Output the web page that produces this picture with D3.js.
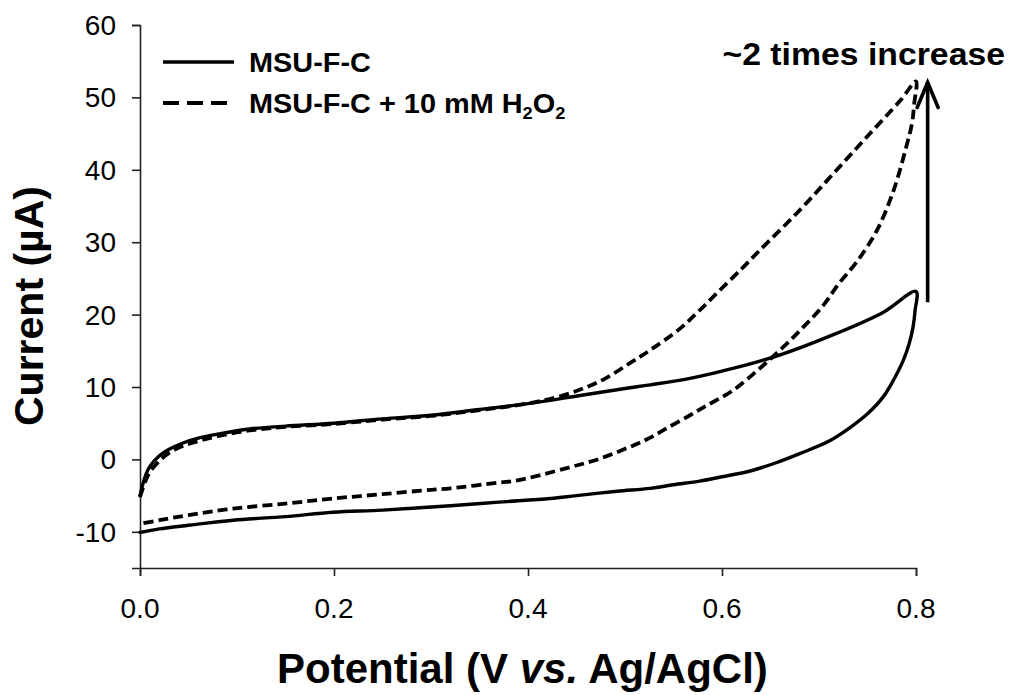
<!DOCTYPE html>
<html>
<head>
<meta charset="utf-8">
<script src="https://cdn.jsdelivr.net/npm/d3@7"></script>
<style>
  html, body { margin: 0; padding: 0; background: #fff; }
  svg { display: block; }
  text { font-family: "Liberation Sans", Arial, Helvetica, sans-serif; fill: #000; }
</style>
</head>
<body>
<svg id="chart" width="1013" height="695"></svg>
<script>
// Cyclic voltammograms, potential in V vs. Ag/AgCl, current in µA.
// Each loop: forward sweep 0 -> 0.8 V, then the return sweep back to 0 V.
const potentialBare = [
  0, 0.005, 0.01, 0.02, 0.03, 0.045, 0.062, 0.08, 0.113, 0.15, 0.2, 0.25, 0.3, 0.35, 0.4,
  0.457, 0.5, 0.526, 0.567, 0.6, 0.657, 0.718, 0.766, 0.8,
  0.799, 0.797, 0.793, 0.787, 0.777, 0.766, 0.75, 0.732, 0.71, 0.68, 0.655, 0.629, 0.6,
  0.577, 0.55, 0.526, 0.492, 0.45, 0.423, 0.37, 0.32, 0.25, 0.199, 0.15, 0.096, 0.05, 0.02, 0
];
const currentBare = [
  -5.0, -2.5, -1.0, 0.5, 1.4, 2.3, 3.0, 3.5, 4.2, 4.6, 5.0, 5.6, 6.1, 6.9, 7.7,
  8.9, 9.8, 10.3, 11.2, 12.2, 14.3, 17.4, 20.3, 23.2,
  20.5, 18.3, 16.0, 13.7, 11.0, 8.6, 6.3, 4.4, 2.5, 0.8, -0.5, -1.6, -2.4,
  -3.0, -3.5, -4.0, -4.4, -5.0, -5.4, -5.9, -6.4, -7.0, -7.3, -7.9, -8.4, -9.1, -9.6, -10.1
];

const potentialPeroxide = [
  0, 0.005, 0.01, 0.02, 0.03, 0.045, 0.062, 0.08, 0.113, 0.15, 0.2, 0.25, 0.3, 0.35, 0.399,
  0.43, 0.457, 0.48, 0.505, 0.526, 0.557, 0.577, 0.595, 0.62, 0.639, 0.68, 0.715, 0.749, 0.784, 0.8,
  0.798, 0.796, 0.79, 0.777, 0.76, 0.739, 0.72, 0.704, 0.684, 0.663, 0.64, 0.611, 0.585, 0.567,
  0.543, 0.526, 0.508, 0.474, 0.44, 0.389, 0.37, 0.32, 0.3, 0.25, 0.199, 0.15, 0.096, 0.05, 0.02, 0
];
const currentPeroxide = [
  -5.2, -3.2, -1.8, -0.2, 0.9, 1.9, 2.6, 3.2, 4.0, 4.5, 4.9, 5.5, 6.0, 6.8, 7.7,
  8.6, 9.8, 11.2, 13.3, 15.1, 18.1, 20.6, 23.0, 26.3, 28.9, 34.4, 39.5, 44.5, 49.6, 52.2,
  49.0, 46.5, 43.2, 37.2, 31.7, 27.3, 24.2, 21.2, 18.3, 15.5, 12.7, 9.5, 7.5, 6.1,
  4.3, 3.0, 1.9, 0.1, -1.2, -2.9, -3.2, -4.0, -4.2, -4.8, -5.4, -6.1, -6.8, -7.7, -8.4, -8.9
];

const xTicks = [0, 0.2, 0.4, 0.6, 0.8];
const yTicks = [-10, 0, 10, 20, 30, 40, 50, 60];
const seriesNames = ["MSU-F-C", "MSU-F-C + 10 mM H2O2"];

// Vertical arrow marking the rise of the anodic current at the switching potential
const arrowPotential = 0.812;
const arrowFrom = 21.7;
const arrowTo = 52.2;
const annotation = "~2 times increase";

const svg = d3.select("#chart");
svg.append("rect").attr("width", 1013).attr("height", 695).attr("fill", "#fff");

const x = d3.scaleLinear().domain([0, 0.8]).range([140, 916]);
const y = d3.scaleLinear().domain([-15, 60]).range([568, 25]);

// text helper: position, optional horizontal stretch and rotation
function label(parent, str, px, py, opts) {
  const o = Object.assign({ size: 28, weight: "normal", anchor: "start", sx: 1.0, rotate: 0 }, opts || {});
  const t = parent.append("text")
    .attr("transform", `translate(${px},${py}) scale(${o.sx},1)` + (o.rotate ? ` rotate(${o.rotate})` : ""))
    .attr("text-anchor", o.anchor)
    .attr("font-size", o.size)
    .attr("font-weight", o.weight);
  if (str !== null) t.text(str);
  return t;
}

// axes
const axisColor = "#222";
const gx = svg.append("g").attr("transform", `translate(0,${y(-15)})`)
  .call(d3.axisBottom(x).tickValues(xTicks).tickSize(8).tickFormat(() => ""));
const gy = svg.append("g").attr("transform", `translate(${x(0)},0)`)
  .call(d3.axisLeft(y).tickValues(yTicks).tickSize(8).tickFormat(() => ""));
[gx, gy].forEach(g => {
  g.select(".domain").attr("stroke", axisColor).attr("stroke-width", 1.6);
  g.selectAll(".tick line").attr("stroke", axisColor).attr("stroke-width", 1.6);
});

xTicks.forEach(v => label(svg, d3.format(".1f")(v), x(v), 618, { anchor: "middle" }));
yTicks.forEach(v => label(svg, String(v), 116, y(v) + 10, { anchor: "end" }));

// axis titles
label(svg, "Current (\u00B5A)", 43, 306, { size: 41, weight: "bold", anchor: "middle", rotate: -90 });
const xt = label(svg, null, 277, 683, { size: 42, weight: "bold" });
xt.append("tspan").text("Potential (V ");
xt.append("tspan").attr("font-style", "italic").text("vs.");
xt.append("tspan").text(" Ag/AgCl)");

// curves
const line = d3.line()
  .x(d => x(d[0])).y(d => y(d[1]))
  .curve(d3.curveCatmullRom.alpha(0.5));

const bare = d3.zip(potentialBare, currentBare);
const peroxide = d3.zip(potentialPeroxide, currentPeroxide);

svg.append("path").datum(peroxide).attr("d", line)
  .attr("fill", "none").attr("stroke", "#000").attr("stroke-width", 3.8)
  .attr("stroke-dasharray", "10,5").attr("stroke-linejoin", "round");
svg.append("path").datum(bare).attr("d", line)
  .attr("fill", "none").attr("stroke", "#000").attr("stroke-width", 3.4)
  .attr("stroke-linejoin", "round").attr("stroke-linecap", "round");

// legend
const legend = svg.append("g");
legend.append("line").attr("x1", 163).attr("x2", 234).attr("y1", 62).attr("y2", 62)
  .attr("stroke", "#000").attr("stroke-width", 3.6);
legend.append("line").attr("x1", 163).attr("x2", 227).attr("y1", 103).attr("y2", 103)
  .attr("stroke", "#000").attr("stroke-width", 3.8).attr("stroke-dasharray", "16,8");
label(legend, seriesNames[0], 249, 72, { size: 27, weight: "bold", sx: 1.07 });
const l2 = label(legend, null, 249, 113, { size: 27, weight: "bold", sx: 1.07 });
l2.append("tspan").text("MSU-F-C + 10 mM H");
l2.append("tspan").attr("font-size", 17).attr("dy", 6).text("2");
l2.append("tspan").attr("dy", -6).text("O");
l2.append("tspan").attr("font-size", 17).attr("dy", 6).text("2");

// arrow and annotation
const ax = x(arrowPotential);
svg.append("line").attr("x1", ax).attr("x2", ax).attr("y1", y(arrowFrom)).attr("y2", y(arrowTo) + 1)
  .attr("stroke", "#000").attr("stroke-width", 3.6);
svg.append("path")
  .attr("d", `M${ax - 10.5},${y(arrowTo) + 26} L${ax},${y(arrowTo) + 1} L${ax + 10.5},${y(arrowTo) + 26}`)
  .attr("fill", "none").attr("stroke", "#000").attr("stroke-width", 3.6)
  .attr("stroke-linejoin", "miter").attr("stroke-linecap", "round");
label(svg, annotation, 1005, 65, { size: 31, weight: "bold", anchor: "end", sx: 1.09 });
</script>
</body>
</html>
